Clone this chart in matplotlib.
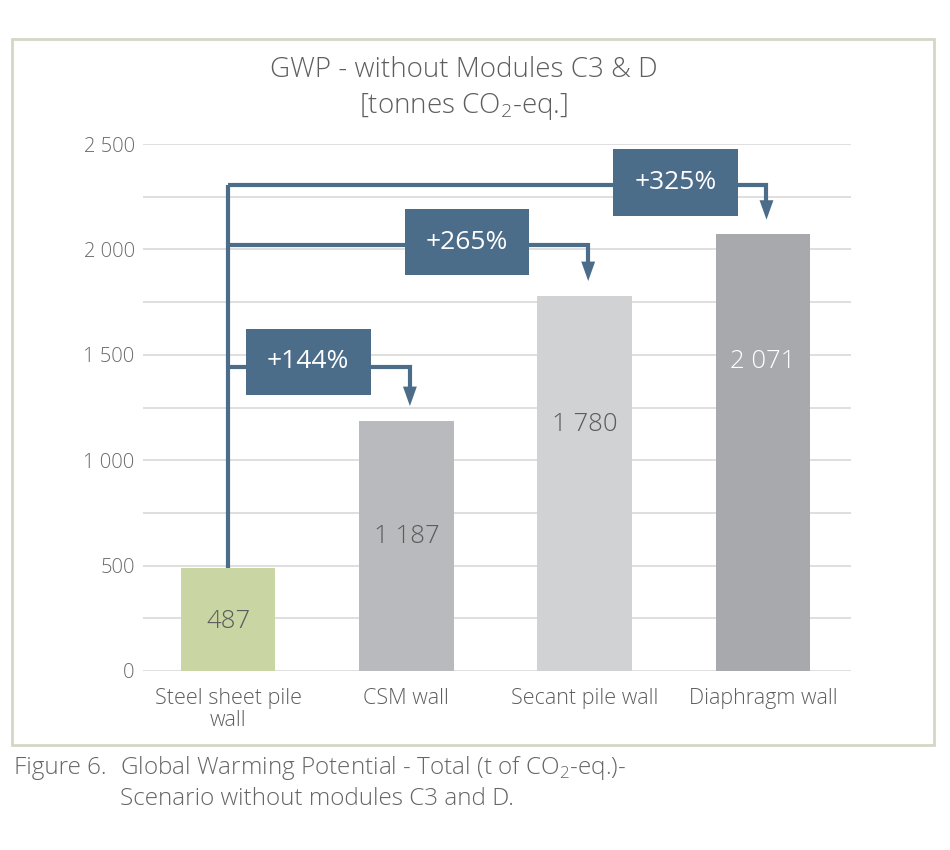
import numpy as np
import matplotlib.pyplot as plt
from matplotlib.patches import Rectangle

plt.rcParams['font.family'] = ['Open Sans', 'DejaVu Sans']
plt.rcParams['font.weight'] = 'light'
plt.rcParams['mathtext.fontset'] = 'custom'
plt.rcParams['mathtext.rm'] = 'Open Sans:light'

categories = ['Steel sheet pile\nwall', 'CSM wall', 'Secant pile wall', 'Diaphragm wall']
values = [487, 1187, 1780, 2071]
value_labels = ['487', '1 187', '1 780', '2 071']
bar_colors = ['#c9d6a4', '#b9babd', '#d1d2d4', '#a8a9ac']
label_colors = ['#5c5c5c', '#5c5c5c', '#5c5c5c', '#ffffff']
label_y = [237, 636, 1167, 1466]

# connectors from the steel bar to the others
increase = ['+144%', '+265%', '+325%']
targets = [1, 2, 3]
levels = [1442, 2020, 2305]
box_x = [0.45, 1.34, 2.51]
box_y = [1466, 2035, 2317]

yticks = np.arange(0, 2501, 500)
ytick_labels = ['0', '500', '1 000', '1 500', '2 000', '2 500']

blue = '#4b6d8a'
grey_txt = '#5e5e5e'

#======================================
fig = plt.figure(figsize=(9.5, 8.5), dpi=100)
ax = fig.add_axes([143/950, 1-671/850, (851-143)/950, (671-144)/850])
#======================================

x = np.arange(len(categories))
ax.bar(x, values, width=0.53, color=bar_colors, zorder=2)

for i in range(len(values)):
    ax.text(x[i], label_y[i], value_labels[i], ha='center', va='center',
            fontsize=18.5, color=label_colors[i], zorder=5)

ax.set_xlim(-0.477, 3.494)
ax.set_ylim(0, 2500)
ax.set_yticks(yticks)
ax.set_yticklabels(ytick_labels)
ax.set_yticks(np.arange(0, 2501, 250), minor=True)
ax.grid(axis='y', which='both', color='#dcdcdc', linewidth=1.3, zorder=0)
ax.tick_params(axis='y', which='both', length=0, pad=6, labelsize=14.5, labelcolor='#6a6a6a')
ax.set_xticks(x)
ax.set_xticklabels(categories, fontsize=15.5, color=grey_txt, linespacing=1.1)
ax.tick_params(axis='x', length=0, pad=12)
for s in ax.spines.values():
    s.set_visible(False)

# vertical trunk from the steel bar
ax.plot([0, 0], [values[0], levels[2]], color=blue, lw=3, zorder=3, solid_capstyle='butt')
for k in range(len(increase)):
    t = targets[k]
    tx = x[t] + 0.02
    ax.plot([0, tx, tx], [levels[k], levels[k], values[t] + 140], color=blue, lw=3,
            zorder=3, solid_capstyle='butt', solid_joinstyle='miter')
    ax.annotate('', xy=(tx, values[t] + 70), xytext=(tx, values[t] + 160),
                arrowprops=dict(arrowstyle='-|>,head_width=0.25,head_length=0.7',
                                mutation_scale=20, color=blue, lw=0,
                                shrinkA=0, shrinkB=0), zorder=4)
    ax.add_patch(Rectangle((box_x[k] - 0.35, box_y[k] - 157), 0.70, 314,
                           facecolor=blue, edgecolor='none', zorder=4))
    ax.text(box_x[k], box_y[k], increase[k], ha='center', va='center',
            fontsize=19, color='white', fontweight='normal', zorder=5)

# title and frame
fig.text(0.488, 1-70/850, 'GWP - without Modules C3 & D', ha='center', va='center',
         fontsize=20, color=grey_txt)
fig.text(0.488, 1-107/850, r'[tonnes CO$_2$-eq.]', ha='center', va='center',
         fontsize=20, color=grey_txt)
fig.patches.append(Rectangle((12/950, 1-745/850), 922/950, 706/850, transform=fig.transFigure,
                             facecolor='none', edgecolor='#d6d6c6', lw=2))

# caption
fig.text(14/950, 1-768/850, 'Figure 6.', ha='left', va='center', fontsize=17.5, color='#666666')
fig.text(120/950, 1-768/850, r'Global Warming Potential - Total (t of CO$_2$-eq.)-',
         ha='left', va='center', fontsize=17.5, color='#666666')
fig.text(120/950, 1-799/850, 'Scenario without modules C3 and D.', ha='left', va='center',
         fontsize=17.5, color='#666666')

plt.savefig('out.png', dpi=100)
